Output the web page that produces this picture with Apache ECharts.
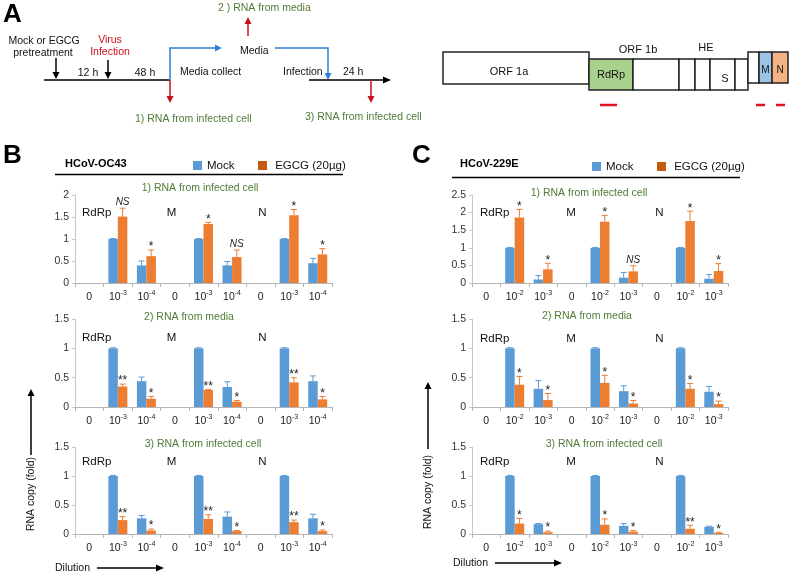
<!DOCTYPE html>
<html><head><meta charset="utf-8">
<script src="https://cdn.jsdelivr.net/npm/echarts/dist/echarts.min.js"></script>
<style>html,body{margin:0;padding:0;background:#fff}#c{width:789px;height:574px}</style>
</head><body><div id="c"></div>
<script>
var FONT = "'Liberation Sans', Arial, sans-serif";
var genes = ['RdRp', 'M', 'N'];
var dilutionsB = ['0', '-3', '-4'];
var dilutionsC = ['0', '-2', '-3'];
var sampleTitles = ['1) RNA from infected cell', '2) RNA from media', '3) RNA from infected cell'];
var seriesNames = ['Mock', 'EGCG (20µg)'];

// Panel B (HCoV-OC43)
var B1_mock    = [null, 1.00, 0.40, null, 1.00, 0.40, null, 1.00, 0.45];
var B1_mockErr = [null, 0.01, 0.10, null, 0.01, 0.09, null, 0.01, 0.11];
var B1_egcg    = [null, 1.51, 0.61, null, 1.34, 0.59, null, 1.54, 0.65];
var B1_egcgErr = [null, 0.19, 0.14, null, 0.04, 0.16, null, 0.13, 0.13];
var B1_sig     = ['', 'NS', '*', '', '*', 'NS', '', '*', '*'];

var B2_mock    = [null, 1.00, 0.44, null, 1.00, 0.34, null, 1.00, 0.44];
var B2_mockErr = [null, 0.01, 0.07, null, 0.01, 0.09, null, 0.01, 0.09];
var B2_egcg    = [null, 0.35, 0.14, null, 0.29, 0.09, null, 0.42, 0.13];
var B2_egcgErr = [null, 0.04, 0.04, null, 0.01, 0.02, null, 0.08, 0.05];
var B2_sig     = ['', '**', '*', '', '**', '*', '', '**', '*'];

var B3_mock    = [null, 1.00, 0.27, null, 1.00, 0.30, null, 1.00, 0.27];
var B3_mockErr = [null, 0.01, 0.05, null, 0.01, 0.08, null, 0.01, 0.07];
var B3_egcg    = [null, 0.24, 0.06, null, 0.26, 0.05, null, 0.205, 0.05];
var B3_egcgErr = [null, 0.06, 0.025, null, 0.07, 0.01, null, 0.035, 0.02];
var B3_sig     = ['', '**', '*', '', '**', '*', '', '**', '*'];

// Panel C (HCoV-229E)
var C1_mock    = [null, 1.00, 0.10, null, 1.00, 0.15, null, 1.00, 0.12];
var C1_mockErr = [null, 0.01, 0.11, null, 0.01, 0.15, null, 0.01, 0.12];
var C1_egcg    = [null, 1.86, 0.39, null, 1.74, 0.33, null, 1.76, 0.34];
var C1_egcgErr = [null, 0.23, 0.17, null, 0.18, 0.16, null, 0.28, 0.21];
var C1_sig     = ['', '*', '*', '', '*', 'NS', '', '*', '*'];

var C2_mock    = [null, 1.00, 0.31, null, 1.00, 0.27, null, 1.00, 0.26];
var C2_mockErr = [null, 0.01, 0.14, null, 0.01, 0.09, null, 0.01, 0.09];
var C2_egcg    = [null, 0.38, 0.12, null, 0.41, 0.06, null, 0.31, 0.05];
var C2_egcgErr = [null, 0.14, 0.11, null, 0.13, 0.05, null, 0.09, 0.05];
var C2_sig     = ['', '*', '*', '', '*', '*', '', '*', '*'];

var C3_mock    = [null, 1.00, 0.17, null, 1.00, 0.14, null, 1.00, 0.125];
var C3_mockErr = [null, 0.01, 0.01, null, 0.01, 0.04, null, 0.01, 0.01];
var C3_egcg    = [null, 0.18, 0.03, null, 0.16, 0.04, null, 0.09, 0.02];
var C3_egcgErr = [null, 0.09, 0.02, null, 0.10, 0.02, null, 0.06, 0.01];
var C3_sig     = ['', '*', '*', '', '*', '*', '', '**', '*'];

var yMaxB = [2, 1.5, 1.5];
var yMaxC = [2.5, 1.5, 1.5];

var BLUE = '#5B9BD5', ORANGE = '#ED7D31', ORANGE_DARK = '#C55A11';
var GREEN = '#4F7B37', RED = '#C8101A', ABLUE = '#2F7ED8';
var BW = 9.5;

function cats(dils) {
  var out = [];
  genes.forEach(function (g) { dils.forEach(function (d) { out.push(g + ':' + d); }); });
  return out;
}

var panels = [
  {grid: {left: 75, top: 195, width: 257, height: 88}, max: yMaxB[0], dil: dilutionsB, m: B1_mock, me: B1_mockErr, e: B1_egcg, ee: B1_egcgErr, s: B1_sig},
  {grid: {left: 75, top: 319, width: 257, height: 88}, max: yMaxB[1], dil: dilutionsB, m: B2_mock, me: B2_mockErr, e: B2_egcg, ee: B2_egcgErr, s: B2_sig},
  {grid: {left: 75, top: 447, width: 257, height: 87}, max: yMaxB[2], dil: dilutionsB, m: B3_mock, me: B3_mockErr, e: B3_egcg, ee: B3_egcgErr, s: B3_sig},
  {grid: {left: 472, top: 195, width: 256, height: 88}, max: yMaxC[0], dil: dilutionsC, m: C1_mock, me: C1_mockErr, e: C1_egcg, ee: C1_egcgErr, s: C1_sig},
  {grid: {left: 472, top: 319, width: 256, height: 88}, max: yMaxC[1], dil: dilutionsC, m: C2_mock, me: C2_mockErr, e: C2_egcg, ee: C2_egcgErr, s: C2_sig},
  {grid: {left: 472, top: 447, width: 256, height: 87}, max: yMaxC[2], dil: dilutionsC, m: C3_mock, me: C3_mockErr, e: C3_egcg, ee: C3_egcgErr, s: C3_sig}
];

function makeErr(side, color, sigs) {
  return function (params, api) {
    var cat = api.value(0), v = api.value(1), e = api.value(2);
    var p0 = api.coord([cat, v]), p1 = api.coord([cat, v + e]);
    var x = p0[0] + side * BW / 2;
    var ch = [
      {type: 'line', shape: {x1: x, y1: p0[1], x2: x, y2: p1[1]}, style: {stroke: color, lineWidth: 1}},
      {type: 'line', shape: {x1: x - 3, y1: p1[1], x2: x + 3, y2: p1[1]}, style: {stroke: color, lineWidth: 1}}
    ];
    var s = sigs ? sigs[params.dataIndex] : '';
    if (s) {
      var ns = s === 'NS';
      ch.push({type: 'text', style: {text: s, x: x, y: ns ? p1[1] - 1 : p1[1] + 3, align: 'center', verticalAlign: 'bottom',
        fontSize: ns ? 10 : 12, fontStyle: ns ? 'italic' : 'normal', fontFamily: FONT, fill: '#222'}});
    }
    return {type: 'group', children: ch};
  };
}

var grids = [], xAxes = [], yAxes = [], series = [];
panels.forEach(function (p, i) {
  grids.push(p.grid);
  xAxes.push({
    type: 'category', gridIndex: i, data: cats(p.dil),
    axisLine: {lineStyle: {color: '#b5b5b5', width: 1}},
    axisTick: {show: true, length: 4, lineStyle: {color: '#b5b5b5'}},
    axisLabel: {
      interval: 0, margin: 7, color: '#222',
      formatter: function (v) { var d = v.split(':')[1]; return d === '0' ? '{n|0}' : '{n|10}{s|' + d + '}'; },
      rich: {n: {fontSize: 10.5, fontFamily: FONT, color: '#222', lineHeight: 14},
             s: {fontSize: 7, fontFamily: FONT, color: '#222', lineHeight: 9, verticalAlign: 'top'}}
    }
  });
  yAxes.push({
    type: 'value', gridIndex: i, min: 0, max: p.max, interval: 0.5,
    axisLine: {show: true, lineStyle: {color: '#c8c8c8'}},
    axisTick: {show: true, length: 3, lineStyle: {color: '#c8c8c8'}},
    splitLine: {show: false},
    axisLabel: {fontSize: 10.5, fontFamily: FONT, color: '#333', margin: 6}
  });
  series.push({type: 'bar', name: seriesNames[0], xAxisIndex: i, yAxisIndex: i, data: p.m, barWidth: BW, barGap: '0%', itemStyle: {color: BLUE}});
  series.push({type: 'bar', name: seriesNames[1], xAxisIndex: i, yAxisIndex: i, data: p.e, barWidth: BW, barGap: '0%', itemStyle: {color: ORANGE}});
  var md = [], ed = [], es = [];
  p.m.forEach(function (v, j) { if (v != null) md.push([j, v, p.me[j]]); });
  p.e.forEach(function (v, j) { if (v != null) { ed.push([j, v, p.ee[j]]); es.push(p.s[j]); } });
  series.push({type: 'custom', xAxisIndex: i, yAxisIndex: i, data: md, renderItem: makeErr(-1, BLUE, null), z: 5, silent: true});
  series.push({type: 'custom', xAxisIndex: i, yAxisIndex: i, data: ed, renderItem: makeErr(1, ORANGE, es), z: 5, silent: true});
});

// ---------- graphic helpers (layout / diagram) ----------
var G = [];
function txt(t, x, y, o) {
  o = o || {};
  G.push({type: 'text', x: x, y: y, rotation: o.rot || 0, style: {text: t, x: 0, y: 0, align: o.align || 'left', verticalAlign: 'middle',
    fontSize: o.size || 11, fontWeight: o.bold ? 'bold' : 'normal', fontStyle: o.italic ? 'italic' : 'normal',
    fontFamily: FONT, fill: o.color || '#111'}});
}
function ln(pts, color, w) {
  G.push({type: 'polyline', shape: {points: pts}, style: {stroke: color, lineWidth: w || 1.5, fill: null}});
}
function tri(pts, color) {
  G.push({type: 'polygon', shape: {points: pts}, style: {fill: color}});
}
function arrowDown(x, y1, y2, color) { ln([[x, y1], [x, y2 - 6]], color); tri([[x - 3.5, y2 - 7], [x + 3.5, y2 - 7], [x, y2]], color); }
function arrowUp(x, y1, y2, color) { ln([[x, y1], [x, y2 + 6]], color); tri([[x - 3.5, y2 + 7], [x + 3.5, y2 + 7], [x, y2]], color); }
function box(x, y, w, h, fill) {
  G.push({type: 'rect', shape: {x: x, y: y, width: w, height: h}, style: {fill: fill || '#fff', stroke: '#222', lineWidth: 1.5}});
}

// Panel letters
txt('A', 3, 15, {size: 26, bold: true, color: '#000'});
txt('B', 3, 156, {size: 26, bold: true, color: '#000'});
txt('C', 412, 156, {size: 26, bold: true, color: '#000'});

// Panel A timeline
ln([[44, 80], [170, 80]], '#000');
arrowDown(56, 58, 79, '#000');
arrowDown(108, 60, 79, '#000');
txt('Mock or EGCG', 44, 41, {align: 'center', size: 10.5});
txt('pretreatment', 43, 53, {align: 'center', size: 10.5});
txt('Virus', 110, 40, {align: 'center', size: 10.5, color: RED});
txt('Infection', 110, 52, {align: 'center', size: 10.5, color: RED});
txt('12 h', 88, 73, {align: 'center', size: 10.5});
txt('48 h', 145, 73, {align: 'center', size: 10.5});
arrowDown(170, 80, 103, RED);
ln([[170, 80], [170, 48], [216, 48]], ABLUE);
tri([[215, 44.5], [215, 51.5], [222, 48]], ABLUE);
txt('Media collect', 180, 72, {size: 10.5});
txt('Media', 240, 51, {size: 10.5});
arrowUp(248, 36, 17, RED);
txt('2 ) RNA from media', 218, 8, {size: 10.5, color: GREEN});
ln([[275, 48], [328, 48], [328, 74]], ABLUE);
tri([[324.5, 73], [331.5, 73], [328, 80]], ABLUE);
txt('Infection', 283, 72, {size: 10.5});
txt('24 h', 343, 72, {size: 10.5});
ln([[309, 80], [384, 80]], '#000');
tri([[383, 76.5], [383, 83.5], [391, 80]], '#000');
arrowDown(371, 80, 103, RED);
txt('1) RNA from infected cell', 135, 119, {size: 10.5, color: GREEN});
txt('3) RNA from infected cell', 305, 117, {size: 10.5, color: GREEN});

// Panel A genome
box(443, 52, 146, 32);
box(589, 59, 44, 31, '#A9D18E');
box(633, 59, 46, 31);
box(679, 59, 16, 31);
box(695, 59, 15, 31);
box(710, 59, 25, 31);
box(735, 59, 13, 31);
box(748, 52, 11, 31);
box(759, 52, 13, 31, '#9DC3E6');
box(772, 52, 16, 31, '#F4B183');
txt('ORF 1a', 509, 72, {align: 'center', size: 11});
txt('RdRp', 611, 75, {align: 'center', size: 11});
txt('S', 725, 79, {align: 'center', size: 11});
txt('ORF 1b', 638, 50, {align: 'center', size: 11});
txt('HE', 706, 48, {align: 'center', size: 11});
txt('M', 765.5, 70, {align: 'center', size: 10});
txt('N', 780, 70, {align: 'center', size: 10});
ln([[600, 105], [617, 105]], '#D9141E', 2.5);
ln([[756, 105], [765, 105]], '#D9141E', 2.5);
ln([[776, 105], [785, 105]], '#D9141E', 2.5);

// Panel headers
txt('HCoV-OC43', 65, 164, {size: 11, bold: true, color: '#000'});
ln([[55, 174.5], [343, 174.5]], '#000', 1.5);
txt('HCoV-229E', 460, 164, {size: 11, bold: true, color: '#000'});
ln([[452, 177.5], [740, 177.5]], '#000', 1.5);

// Sub-titles and gene labels
var subPos = [[200, 188], [189, 317], [203, 444], [589, 193], [587, 316], [604, 444]];
var geneY = [212.7, 337.7, 461.7, 212.7, 339.3, 462.3];
panels.forEach(function (p, i) {
  txt(sampleTitles[i % 3], subPos[i][0], subPos[i][1], {align: 'center', size: 10.5, color: GREEN});
  var L = p.grid.left;
  var off = i < 3 ? [7, 96.5, 187.5] : [8, 99, 187.5];
  txt(genes[0], L + off[0], geneY[i], {size: 11.5});
  txt(genes[1], L + off[1], geneY[i], {size: 11.5, align: 'center'});
  txt(genes[2], L + off[2], geneY[i], {size: 11.5, align: 'center'});
});

// Y axis titles with arrows
txt('RNA copy (fold)', 31.5, 494, {size: 10.5, align: 'center', rot: Math.PI / 2});
ln([[31, 455], [31, 395]], '#000', 1.5); tri([[27.5, 396], [34.5, 396], [31, 389]], '#000');
txt('RNA copy (fold)', 428.5, 492, {size: 10.5, align: 'center', rot: Math.PI / 2});
ln([[428, 449], [428, 388]], '#000', 1.5); tri([[424.5, 389], [431.5, 389], [428, 382]], '#000');

// Dilution arrows
txt('Dilution', 55, 568, {size: 10.5});
ln([[97, 568], [157, 568]], '#000', 1.5); tri([[156, 564.5], [156, 571.5], [164, 568]], '#000');
txt('Dilution', 453, 563, {size: 10.5});
ln([[495, 563], [555, 563]], '#000', 1.5); tri([[554, 559.5], [554, 566.5], [562, 563]], '#000');

var legendBase = {orient: 'horizontal', itemWidth: 9, itemHeight: 9, icon: 'rect', itemGap: 20, padding: 0,
  textStyle: {fontSize: 11.5, fontFamily: FONT, color: '#111'}, selectedMode: false};
function leg(x, y, name, color, pad) {
  return Object.assign({}, legendBase, {left: x, top: y, data: [{name: name, itemStyle: {color: color}}],
    formatter: function (n) { return pad + n; }});
}

var chart = echarts.init(document.getElementById('c'), null, {renderer: 'canvas'});
chart.setOption({
  animation: false,
  backgroundColor: '#fff',
  legend: [
    leg(193, 159.5, seriesNames[0], BLUE, ''),
    leg(258, 159.5, seriesNames[1], ORANGE_DARK, ' '),
    leg(592, 160.5, seriesNames[0], BLUE, ''),
    leg(657, 160.5, seriesNames[1], ORANGE_DARK, ' ')
  ],
  grid: grids,
  xAxis: xAxes,
  yAxis: yAxes,
  series: series,
  graphic: G
});
</script></body></html>
